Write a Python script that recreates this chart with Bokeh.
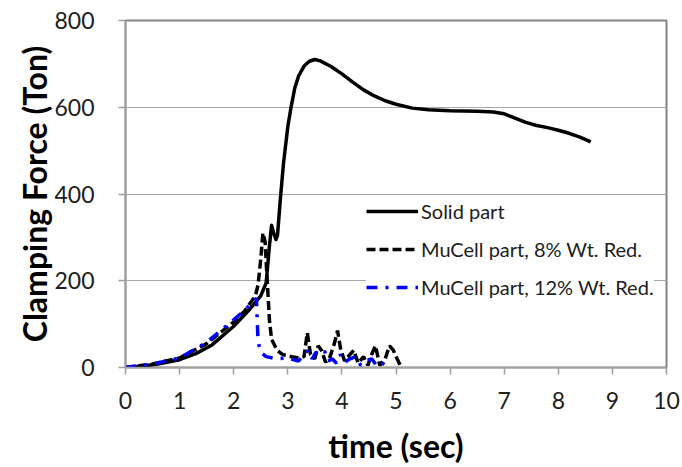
from bokeh.plotting import figure
from bokeh.models import FixedTicker, Range1d, Legend, LegendItem
from bokeh.embed import file_html
from bokeh.resources import INLINE

# ---- data ----
t_solid = [0, 0.3, 0.6, 1.0, 1.3, 1.6, 2.0, 2.3, 2.5, 2.6, 2.66, 2.70, 2.74, 2.78, 2.81,
           2.86, 2.92, 3.0, 3.06, 3.13, 3.2, 3.3, 3.4, 3.5, 3.6, 3.8, 4.0, 4.2, 4.4, 4.6,
           4.8, 5.0, 5.3, 5.6, 6.0, 6.5, 6.8, 7.0, 7.2, 7.4, 7.6, 7.8, 8.0, 8.2, 8.4, 8.6]
f_solid = [0, 3, 8, 18, 32, 52, 95, 135, 165, 195, 280, 328, 310, 295, 305,
           385, 470, 555, 600, 645, 672, 695, 706, 710, 707, 694, 677, 658, 640, 626,
           615, 607, 598, 594, 592, 591, 589, 585, 575, 565, 558, 553, 547, 540, 531, 520]

t_mc8 = [0, 0.5, 1.0, 1.5, 2.0, 2.2, 2.4, 2.45, 2.5, 2.54, 2.58, 2.62, 2.66, 2.7, 2.8,
         2.9, 3.0, 3.1, 3.2, 3.3, 3.36, 3.42, 3.5, 3.56, 3.62, 3.7, 3.78, 3.86, 3.92,
         3.98, 4.05, 4.15, 4.22, 4.3, 4.4, 4.48, 4.55, 4.62, 4.7, 4.8, 4.88, 4.95, 5.02, 5.1]
f_mc8 = [0, 8, 22, 55, 105, 130, 165, 190, 250, 310, 290, 200, 110, 65, 40,
         30, 27, 24, 22, 25, 80, 30, 20, 50, 40, 12, 25, 55, 85,
         40, 15, 30, 40, 10, 25, 5, 30, 50, 5, 20, 50, 40, 20, 0]

t_mc12 = [0, 0.5, 1.0, 1.5, 2.0, 2.2, 2.35, 2.42, 2.45, 2.5, 2.6, 2.8, 3.0, 3.2, 3.3,
          3.38, 3.45, 3.52, 3.6, 3.68, 3.75, 3.82, 3.9, 3.97, 4.05, 4.15, 4.25, 4.35,
          4.45, 4.55, 4.65, 4.75, 4.85]
f_mc12 = [0, 8, 22, 58, 110, 132, 150, 160, 60, 35, 25, 20, 22, 15, 30,
          40, 20, 35, 30, 38, 15, 20, 10, 30, 12, 20, 25, 5,
          15, 20, 3, 10, 0]

x_ticks = [0, 1, 2, 3, 4, 5, 6, 7, 8, 9, 10]
y_ticks = [0, 200, 400, 600, 800]
labels = ["Solid part", "MuCell part, 8% Wt. Red.", "MuCell part, 12% Wt. Red."]

FONT = "Lato"

p = figure(width=682, height=467, output_backend="svg", toolbar_location=None,
           x_range=Range1d(0, 10), y_range=Range1d(0, 800),
           min_border_left=125, min_border_right=16, min_border_top=20, min_border_bottom=100)
p.background_fill_color = "white"
p.border_fill_color = "white"
p.outline_line_color = "#858585"
p.outline_line_width = 2

p.xgrid.grid_line_color = None
p.ygrid.grid_line_color = "#a8a8a8"
p.ygrid.grid_line_width = 1
p.ygrid.ticker = FixedTicker(ticks=y_ticks)

for ax, ticks in ((p.xaxis, x_ticks), (p.yaxis, y_ticks)):
    ax.ticker = FixedTicker(ticks=ticks)
    ax.axis_line_color = "#a0a0a0"
    ax.axis_line_width = 1.5
    ax.major_tick_line_color = "#a0a0a0"
    ax.major_tick_line_width = 1.5
    ax.major_tick_in = 0
    ax.major_tick_out = 7
    ax.minor_tick_line_color = None
    ax.major_label_text_font = FONT
    ax.major_label_text_font_size = "23px"
    ax.major_label_text_color = "#202020"
    ax.axis_label_text_font = FONT
    ax.axis_label_text_font_style = "bold"
    ax.axis_label_text_color = "black"

p.xaxis.axis_label = "time (sec)"
p.yaxis.axis_label = "Clamping Force (Ton)"
p.xaxis.axis_label_text_font_size = "32px"
p.yaxis.axis_label_text_font_size = "32px"
p.xaxis.major_label_standoff = 17
p.yaxis.major_label_standoff = 24
p.xaxis.axis_label_standoff = 14
p.yaxis.axis_label_standoff = -3

r1 = p.line(t_solid, f_solid, line_color="black", line_width=3.5, line_join="round")
r2 = p.line(t_mc8, f_mc8, line_color="black", line_width=3.5, line_dash="9 4")
r3 = p.line(t_mc12, f_mc12, line_color="#0000ff", line_width=3.5, line_dash="11 8 3 8")

legend = Legend(items=[LegendItem(label=labels[0], renderers=[r1]),
                       LegendItem(label=labels[1], renderers=[r2]),
                       LegendItem(label=labels[2], renderers=[r3])],
                location=(241, 68))
legend.background_fill_color = "white"
legend.background_fill_alpha = 1.0
legend.border_line_color = None
legend.padding = 10
legend.margin = 0
legend.spacing = 14
legend.glyph_width = 52
legend.glyph_height = 24
legend.label_height = 24
legend.label_standoff = 3
legend.label_text_font = FONT
legend.label_text_font_size = "20px"
legend.label_text_color = "#202020"
p.add_layout(legend, "center")

open("out.html", "w").write(file_html(p, INLINE))
